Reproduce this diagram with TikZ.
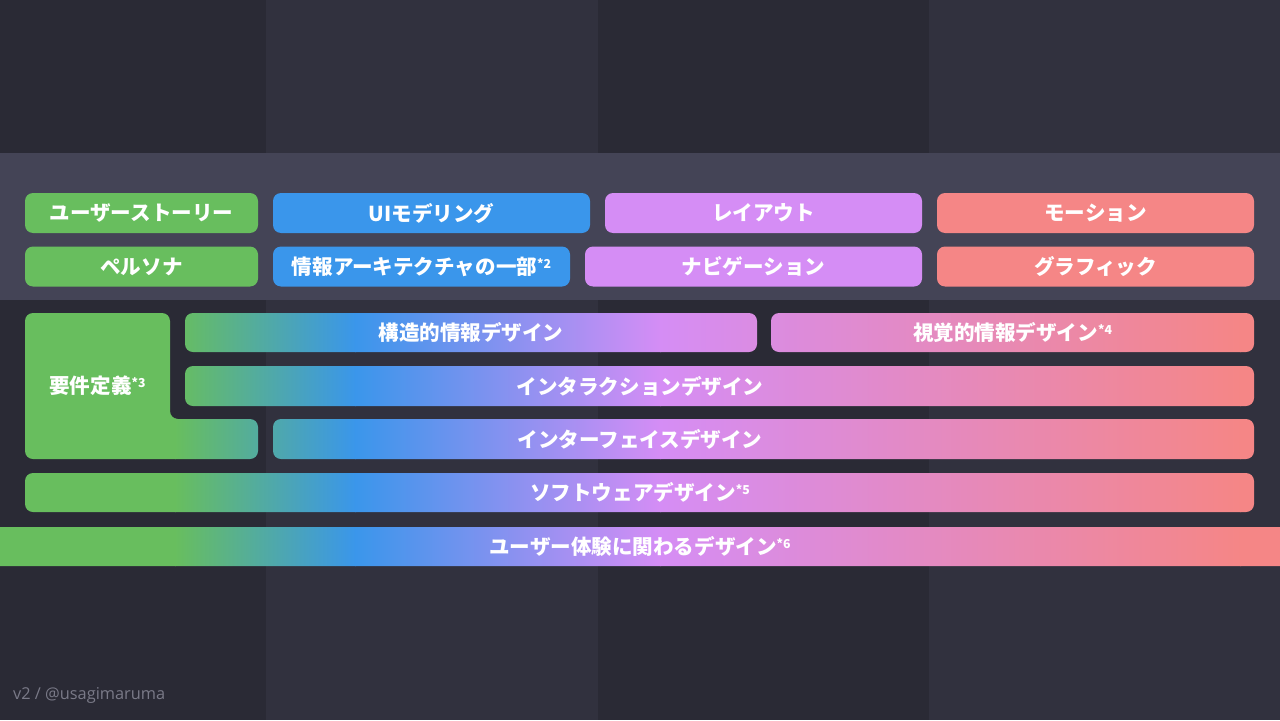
\documentclass[tikz,border=0pt]{standalone}
\usepackage{fontspec}
\setmainfont{Noto Sans CJK JP}
\newfontfamily\footfont{Open Sans}

\definecolor{coldark}{HTML}{2A2A35}
\definecolor{collight}{HTML}{31313E}
\definecolor{band}{HTML}{444456}
\definecolor{ugreen}{HTML}{68BE5E}
\definecolor{ublue}{HTML}{3A96EB}
\definecolor{upurple}{HTML}{D58DF5}
\definecolor{ured}{HTML}{F58686}
\definecolor{footgray}{HTML}{7A7A88}

\newcommand\starnote[1]{\raisebox{0.55ex}{\fontsize{7}{8}\selectfont *#1}}

\begin{document}
\begin{tikzpicture}[x=0.02cm, y=-0.02cm,
    txt/.style={text=white, font=\bfseries\fontsize{11.7}{13}\selectfont},
    tag/.style={txt, rounded corners=0.16cm, inner sep=0pt, minimum height=0.8cm},
    boxw/.style={minimum width=#1*0.02cm},
    foot/.style={text=footgray, font=\footfont\fontsize{9.3}{11}\selectfont}]

    \useasboundingbox (0,0) rectangle (1280,720);

    % background columns and band
    \fill[coldark] (0,0) rectangle (1280,720);
    \fill[collight] (266,0) rectangle (598,720);
    \fill[collight] (929,0) rectangle (1280,720);
    \fill[band] (0,153) rectangle (1280,300);

    % top rows
    \node[tag, boxw=233, fill=ugreen] (story) at (141.5,213) {ユーザーストーリー};
    \node[tag, boxw=317, fill=ublue] (uimodel) at (431.5,213) {UIモデリング};
    \node[tag, boxw=317, fill=upurple] (layout) at (763.5,213) {レイアウト};
    \node[tag, boxw=317, fill=ured] (motion) at (1095.5,213) {モーション};

    \node[tag, boxw=233, fill=ugreen] (persona) at (141.5,266.5) {ペルソナ};
    \node[tag, boxw=297, fill=ublue] (infoarch) at (421.5,266.5) {情報アーキテクチャの一部\starnote{2}};
    \node[tag, boxw=337, fill=upurple] (navi) at (753.5,266.5) {ナビゲーション};
    \node[tag, boxw=317, fill=ured] (graphic) at (1095.5,266.5) {グラフィック};

    % gradient layers
    \begin{scope}
    \clip[rounded corners=0.16cm]
        (25,313) -- (170,313) -- (170,419) -- (258,419) -- (258,459) -- (25,459) -- cycle
        (185,313) rectangle (757,352)
        (771,313) rectangle (1254,352)
        (185,366) rectangle (1254,406)
        (273,419) rectangle (1254,459)
        (25,473) rectangle (1254,512)
        (-20,527) rectangle (1300,566);
    \fill[ugreen] (0,300) rectangle (176,580);
    \shade[left color=ugreen, right color=ublue] (175,300) rectangle (356,580);
    \shade[left color=ublue, right color=upurple] (355,300) rectangle (661,580);
    \shade[left color=upurple, right color=ured] (660,300) rectangle (1241,580);
    \fill[ured] (1240,300) rectangle (1280,580);
    \end{scope}

    \node[txt] (reqdef) at (97.5,385.5) {要件定義\starnote{3}};
    \node[txt] (structinfo) at (471,332.5) {構造的情報デザイン};
    \node[txt] (visualinfo) at (1012.5,332.5) {視覚的情報デザイン\starnote{4}};
    \node[txt] (interaction) at (640,386) {インタラクションデザイン};
    \node[txt] (interface) at (640,439) {インターフェイスデザイン};
    \node[txt] (software) at (640,492.5) {ソフトウェアデザイン\starnote{5}};
    \node[txt] (uxdesign) at (640,546.5) {ユーザー体験に関わるデザイン\starnote{6}};

    \node[foot, anchor=west] (credit) at (7,695) {v2 / @usagimaruma};

\end{tikzpicture}
\end{document}
